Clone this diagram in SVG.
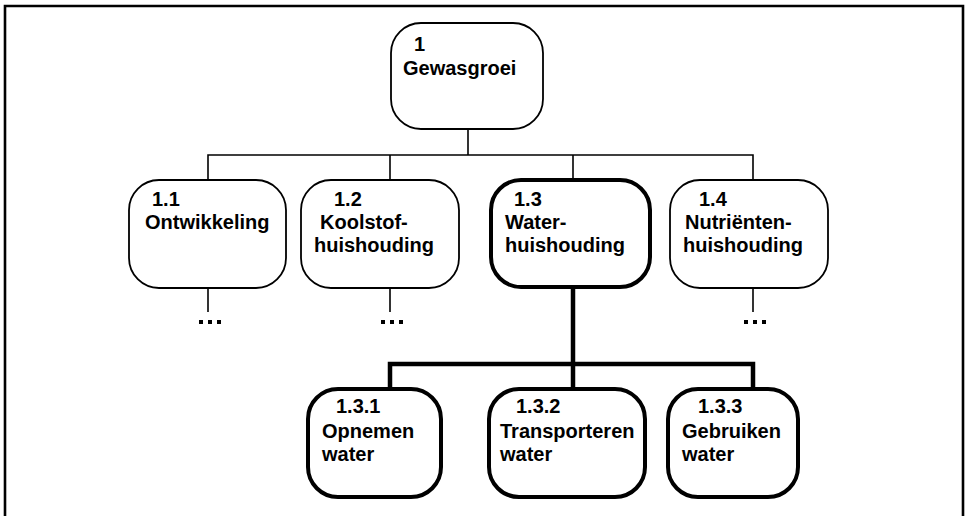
<svg xmlns="http://www.w3.org/2000/svg" width="969" height="516" viewBox="0 0 969 516">
  <style>
    .box { fill: #ffffff; stroke: #000000; stroke-width: 1.8; }
    .box.bold { stroke-width: 4; }
    .lbl { font-family: "Liberation Sans", Arial, Helvetica, sans-serif; font-weight: bold; font-size: 20px; fill: #000000; }
    .thin { fill: none; stroke: #000000; stroke-width: 1.6; }
    .thick { fill: none; stroke: #000000; stroke-width: 4.5; }
    .dot { fill: #000000; }
  </style>

  <rect width="969" height="516" fill="#ffffff"/>

  <!-- page frame (open at the bottom) -->
  <path d="M5,516 V6 H963 V516" fill="none" stroke="#000000" stroke-width="2.6"/>

  <!-- connectors -->
  <g id="connectors">
    <!-- level 1 to level 2 -->
    <path class="thin" d="M468,129 V155"/>
    <path class="thin" d="M208,180 V155 H753 V180"/>
    <path class="thin" d="M390,155 V180"/>
    <path class="thin" d="M573,155 V180"/>
    <!-- continuation stubs -->
    <path class="thin" d="M208,288 V312"/>
    <path class="thin" d="M390,288 V312"/>
    <path class="thin" d="M753,288 V312"/>
    <g class="dot">
      <rect x="199" y="320" width="4" height="4"/>
      <rect x="208" y="320" width="4" height="4"/>
      <rect x="217" y="320" width="4" height="4"/>
      <rect x="381" y="320" width="4" height="4"/>
      <rect x="390" y="320" width="4" height="4"/>
      <rect x="399" y="320" width="4" height="4"/>
      <rect x="744" y="320" width="4" height="4"/>
      <rect x="753" y="320" width="4" height="4"/>
      <rect x="762" y="320" width="4" height="4"/>
    </g>
    <!-- 1.3 to its sub-processes -->
    <path class="thick" d="M573,288 V389"/>
    <path class="thick" d="M390,389 V364 H753 V389"/>
  </g>

  <!-- level 1 -->
  <g id="n1">
    <rect class="box" x="391" y="23" width="152" height="106" rx="30" ry="30"/>
    <text class="lbl" x="414" y="51">1</text>
    <text class="lbl" x="403" y="75">Gewasgroei</text>
  </g>

  <!-- level 2 -->
  <g id="n1-1">
    <rect class="box" x="129" y="180" width="157" height="108" rx="30" ry="30"/>
    <text class="lbl" x="152" y="206">1.1</text>
    <text class="lbl" x="145" y="229">Ontwikkeling</text>
  </g>
  <g id="n1-2">
    <rect class="box" x="301" y="180" width="158" height="108" rx="30" ry="30"/>
    <text class="lbl" x="334" y="206">1.2</text>
    <text class="lbl" x="320" y="229">Koolstof-</text>
    <text class="lbl" x="314" y="252">huishouding</text>
  </g>
  <g id="n1-3">
    <rect class="box bold" x="491" y="180" width="159" height="107" rx="30" ry="30"/>
    <text class="lbl" x="514" y="206">1.3</text>
    <text class="lbl" x="505" y="229">Water-</text>
    <text class="lbl" x="505" y="252">huishouding</text>
  </g>
  <g id="n1-4">
    <rect class="box" x="670" y="180" width="158" height="108" rx="30" ry="30"/>
    <text class="lbl" x="699" y="206">1.4</text>
    <text class="lbl" x="685" y="229">Nutriënten-</text>
    <text class="lbl" x="683" y="252">huishouding</text>
  </g>

  <!-- level 3 -->
  <g id="n1-3-1">
    <rect class="box bold" x="308" y="389" width="133" height="108" rx="30" ry="30"/>
    <text class="lbl" x="336" y="413">1.3.1</text>
    <text class="lbl" x="322" y="438">Opnemen</text>
    <text class="lbl" x="322" y="461">water</text>
  </g>
  <g id="n1-3-2">
    <rect class="box bold" x="489" y="389" width="156" height="108" rx="30" ry="30"/>
    <text class="lbl" x="516" y="413">1.3.2</text>
    <text class="lbl" x="500" y="438">Transporteren</text>
    <text class="lbl" x="500" y="461">water</text>
  </g>
  <g id="n1-3-3">
    <rect class="box bold" x="668" y="389" width="130" height="108" rx="30" ry="30"/>
    <text class="lbl" x="698" y="413">1.3.3</text>
    <text class="lbl" x="682" y="438">Gebruiken</text>
    <text class="lbl" x="682" y="461">water</text>
  </g>
</svg>
